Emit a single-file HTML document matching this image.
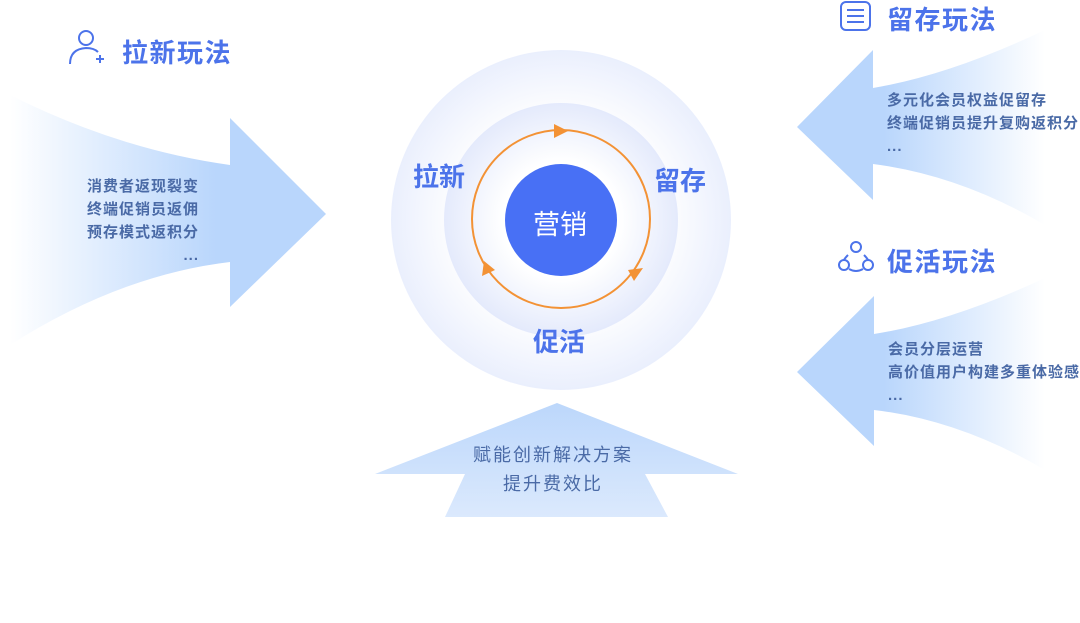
<!DOCTYPE html>
<html><head><meta charset="utf-8"><style>
body{margin:0;width:1080px;height:623px;background:#fff;position:relative;overflow:hidden;font-family:"Liberation Sans","Noto Sans CJK SC",sans-serif}
.t{position:absolute;white-space:nowrap}
.h{font-size:26px;font-weight:bold;color:#4c73ea;letter-spacing:1.5px}
.b{font-size:15px;font-weight:bold;color:#4a6aa6;line-height:23px;letter-spacing:1px}
</style></head><body>
<svg width="1080" height="623" style="position:absolute;left:0;top:0">
<defs>
<linearGradient id="gl" x1="0" x2="1" y1="0" y2="0"><stop offset="0" stop-color="#b9d6fc" stop-opacity="0"/><stop offset="0.65" stop-color="#b9d6fc"/><stop offset="1" stop-color="#b9d6fc"/></linearGradient>
<linearGradient id="gr" x1="1" x2="0" y1="0" y2="0"><stop offset="0" stop-color="#b9d6fc" stop-opacity="0"/><stop offset="0.65" stop-color="#b9d6fc"/><stop offset="1" stop-color="#b9d6fc"/></linearGradient>
<linearGradient id="gb" x1="0" x2="0" y1="0" y2="1"><stop offset="0" stop-color="#bcd7fb"/><stop offset="1" stop-color="#dbe9fd"/></linearGradient>
<radialGradient id="c1"><stop offset="0.6" stop-color="#fff"/><stop offset="1" stop-color="#eaeffd"/></radialGradient>
<radialGradient id="c2"><stop offset="0.5" stop-color="#fff"/><stop offset="1" stop-color="#e4eafc"/></radialGradient>
</defs>
<path d="M10,95 Q120,150 230,165 L230,118 L326,214 L230,307 L230,262 Q120,275 10,345 Z" fill="url(#gl)"/>
<path d="M1045,30 Q950,75 873,88 L873,50 L797,127 L873,200 L873,164 Q960,175 1045,225 Z" fill="url(#gr)"/>
<path d="M1045,278 Q950,322 874,334 L874,296 L797,372 L874,446 L874,410 Q960,420 1045,470 Z" fill="url(#gr)"/>
<path d="M557,403 L738,474 L645,474 L668,517 L445,517 L465,474 L375,474 Z" fill="url(#gb)"/>
<circle cx="561" cy="220" r="170" fill="url(#c1)"/>
<circle cx="561" cy="220" r="117" fill="url(#c2)"/>
<circle cx="561" cy="219" r="89" fill="none" stroke="#f39235" stroke-width="2"/>
<polygon points="554,124 568,131 554,138" fill="#f39235"/>
<polygon points="628,270 643,268 634,281" fill="#f39235"/>
<polygon points="482,276 484,261 495,270" fill="#f39235"/>
<circle cx="561" cy="220" r="56" fill="#4870f5"/>
<g fill="none" stroke="#4c73ea" stroke-width="2">
<circle cx="86" cy="38" r="7"/><path d="M70,64 Q70,49 86,48 Q94,48 98,52"/><path d="M96,59h8M100,55v8"/>
<rect x="841" y="2" width="29" height="28" rx="5"/><path d="M847,10h17M847,16h17M847,22h17"/>
<circle cx="856" cy="247" r="5"/><circle cx="844" cy="265" r="5"/><circle cx="868" cy="265" r="5"/><path d="M848,255 Q845,258 844,260M864,255 Q867,258 868,260M849,269 Q856,273 863,269"/>
</g>
</svg>
<div class="t h" style="left:122px;top:33px">拉新玩法</div>
<div class="t h" style="left:887px;top:0px">留存玩法</div>
<div class="t h" style="left:887px;top:242px">促活玩法</div>
<div class="t b" style="left:87px;top:175px;text-align:right">消费者返现裂变<br>终端促销员返佣<br>预存模式返积分<br>...</div>
<div class="t b" style="left:887px;top:89px">多元化会员权益促留存<br>终端促销员提升复购返积分<br>...</div>
<div class="t b" style="left:888px;top:338px">会员分层运营<br>高价值用户构建多重体验感<br>...</div>
<div class="t" style="left:413px;top:157px;font-size:26px;font-weight:bold;color:#4c73ea">拉新</div>
<div class="t" style="left:654px;top:161px;font-size:26px;font-weight:bold;color:#4c73ea">留存</div>
<div class="t" style="left:533px;top:322px;font-size:26px;font-weight:bold;color:#4c73ea">促活</div>
<div class="t" style="left:533px;top:203px;font-size:27px;color:#fff">营销</div>
<div class="t" style="left:463px;top:441px;font-size:18px;color:#4a6aa6;line-height:29px;text-align:center;width:180px;letter-spacing:2px">赋能创新解决方案<br>提升费效比</div>
</body></html>
